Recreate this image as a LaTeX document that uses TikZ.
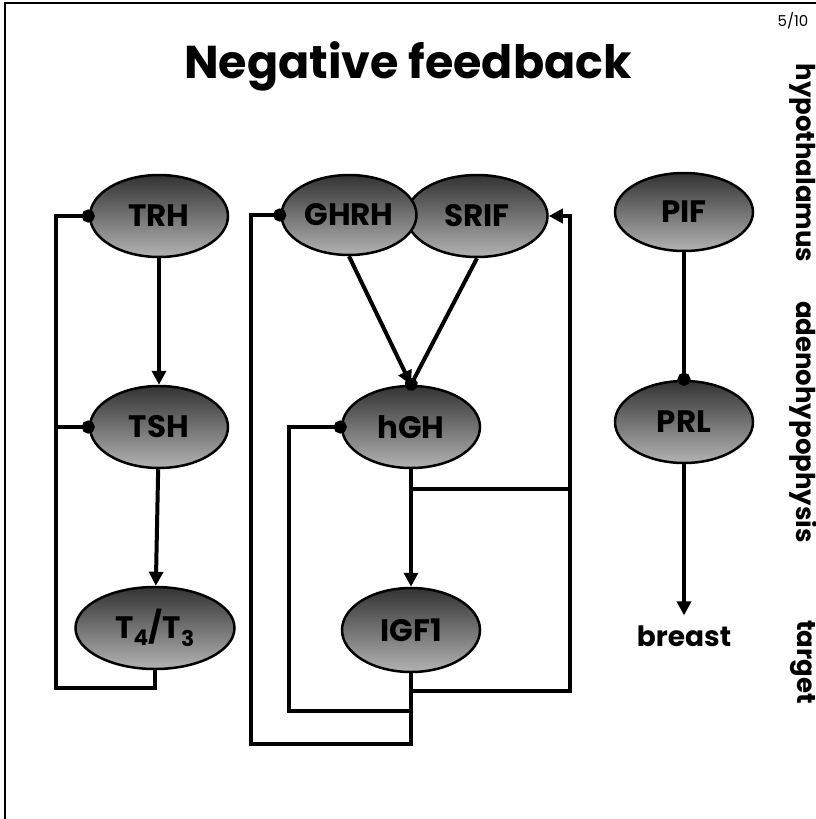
\documentclass[tikz,border=0pt]{standalone}
\usepackage{fontspec}
\setmainfont{Poppins}
\usetikzlibrary{arrows.meta,shapes.geometric}
\tikzset{
  hormone/.style={ellipse, draw=black, line width=2.5pt, top color=black!80, bottom color=black!30, minimum width=138pt, minimum height=82pt, inner sep=0pt, font=\fontsize{31}{34}\selectfont\bfseries},
  link/.style={line width=4pt, draw=black},
  stim/.style={link, -{Triangle[length=14pt, width=14pt]}},
  inhib/.style={link, -{Circle[length=13pt]}, shorten >=-6pt},
  level/.style={rotate=-90, font=\fontsize{26}{30}\selectfont\bfseries}
}

\begin{document}
\begin{tikzpicture}[x=1pt, y=-1pt]
  \useasboundingbox (0,0) rectangle (816,819);
  \draw[line width=2pt] (5,819) -- (5,3) -- (816,3);

  \node[font=\fontsize{46}{50}\selectfont\bfseries] (title) at (408,66) {Negative feedback};
  \node[font=\fontsize{15}{18}\selectfont] (page) at (793,21) {5/10};

  % thyroid axis
  \node[hormone] (trh) at (159,216) {TRH};
  \node[hormone] (tsh) at (159,427) {TSH};
  \node[hormone, minimum width=159pt] (t43) at (155,628) {T\textsubscript{4}/T\textsubscript{3}};

  % growth hormone axis
  \node[hormone, minimum width=141pt] (srif) at (477,216) {SRIF};
  \node[hormone, minimum width=135pt, minimum height=80pt] (ghrh) at (349,215) {GHRH};
  \node[hormone] (hgh) at (411,427) {hGH};
  \node[hormone, minimum height=84pt] (igf) at (411,630) {IGF1};

  % prolactin
  \node[hormone, minimum height=78pt] (pif) at (684,212) {PIF};
  \node[hormone] (prl) at (684,422) {PRL};
  \node[font=\fontsize{28}{32}\selectfont\bfseries, inner sep=10pt] (breast) at (684,636) {breast};

  \node[level] (hyp) at (803,163) {hypothalamus};
  \node[level] (adh) at (803,422) {adenohypophysis};
  \node[level] (tgt) at (803,662) {target};

  \coordinate (tleft) at ([xshift=-33pt]trh.west);
  \coordinate (gleft) at ([xshift=-29pt]ghrh.west);
  \coordinate (hleft) at ([xshift=-52pt]hgh.west);
  \coordinate (sright) at ([xshift=21pt]srif.east);
  \coordinate (hjoin) at ([yshift=-20pt]hgh.south);

  \draw[stim] (trh) -- (tsh);
  \draw[stim] (tsh) -- (t43);
  \draw[inhib] (t43.south) -- ([yshift=-18pt]t43.south) -| (tleft) -- (trh.west);
  \draw[inhib] (tsh.west -| tleft) -- (tsh.west);

  \draw[stim] (ghrh.south) -- (hgh.north);
  \draw[inhib] (srif.south) -- (hgh.north);
  \draw[stim] (hgh) -- (igf);
  \draw[link] (hjoin) -- (hjoin -| sright);
  \draw[stim] ([yshift=-18pt]igf.south) -| (sright) -- (srif.east);
  \draw[inhib] ([yshift=-38pt]igf.south) -| (hleft) -- (hgh.west);
  \draw[inhib] (igf.south) -- ([yshift=-71pt]igf.south) -| (gleft) -- (ghrh.west);

  \draw[inhib] (pif) -- (prl);
  \draw[stim] (prl) -- (breast);
\end{tikzpicture}
\end{document}
